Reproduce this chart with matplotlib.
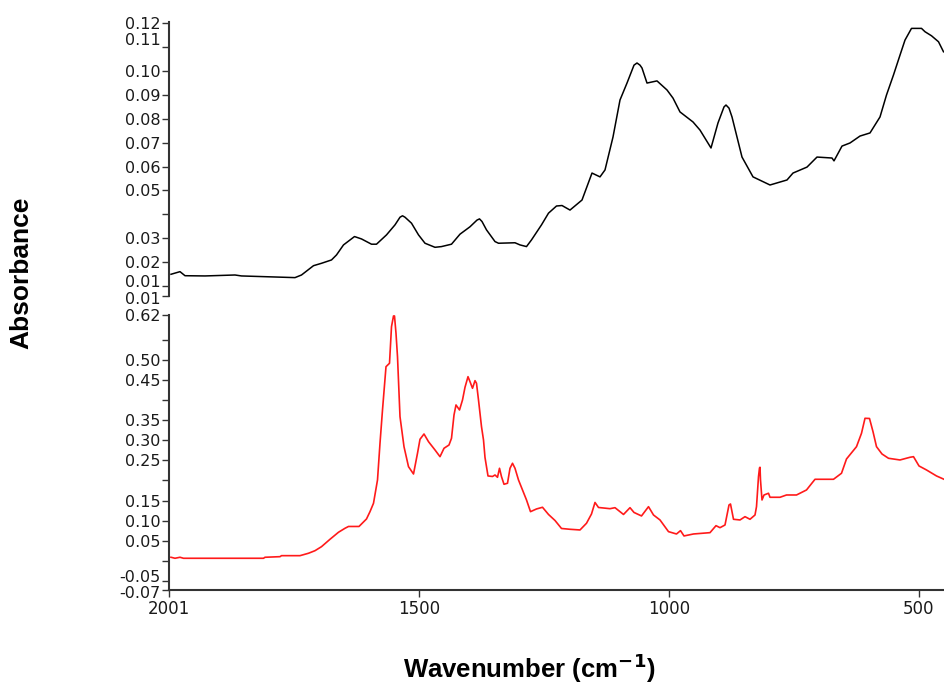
import matplotlib
matplotlib.use('Agg')
import matplotlib.pyplot as plt
from matplotlib.transforms import ScaledTranslation

# Espectro superior (preto) - numero de onda (cm-1) e absorbancia
wn_top = [1996, 1978, 1968, 1928, 1868, 1855, 1748, 1735, 1711, 1695, 1675, 1665,
          1651, 1629, 1615, 1595, 1585, 1565, 1548, 1538, 1533, 1528, 1515, 1501, 1488,
          1468, 1455, 1435, 1418, 1398, 1384, 1379, 1374, 1365, 1348, 1341, 1308, 1298, 1285,
          1275, 1255, 1241, 1225, 1214, 1198, 1174, 1154, 1138, 1128, 1112, 1098,
          1084, 1070, 1064, 1058, 1054, 1044, 1024, 1004, 992, 978, 952, 938, 916, 902, 890, 886,
          880, 874, 854, 832, 798, 764, 752, 724, 704, 674, 670, 654, 638, 618, 598,
          578, 565, 551, 538, 528, 515, 495, 488, 475, 461, 451]
abs_top = [0.0149, 0.0160, 0.0143, 0.0142, 0.0146, 0.0142, 0.0135, 0.0146, 0.0185,
           0.0195, 0.0209, 0.0230, 0.0272, 0.0307, 0.0297, 0.0275, 0.0275, 0.0314,
           0.0356, 0.0388, 0.0394, 0.0388, 0.0363, 0.0314, 0.0279, 0.0262, 0.0265, 0.0275,
           0.0317, 0.0348, 0.0376, 0.0381, 0.0370, 0.0335, 0.0286, 0.0279, 0.0281, 0.0272, 0.0265,
           0.0293, 0.0356, 0.0405, 0.0435, 0.0437, 0.0418, 0.0460, 0.0573, 0.0557,
           0.0586, 0.0724, 0.0879, 0.0950, 0.1025, 0.1034, 0.1025, 0.1013, 0.0950, 0.0959, 0.0921,
           0.0887, 0.0829, 0.0787, 0.0753, 0.0678, 0.0783, 0.0850, 0.0858, 0.0845, 0.0808, 0.0640,
           0.0557, 0.0523, 0.0544, 0.0573, 0.0598, 0.0640, 0.0636, 0.0624, 0.0686,
           0.0699, 0.0728, 0.0741, 0.0808, 0.0900, 0.0984, 0.1067, 0.1130, 0.1179,
           0.1179, 0.1165, 0.1148, 0.1123, 0.1081]

# Espectro inferior (vermelho)
wn_bot = [1996, 1988, 1978, 1971, 1811, 1808, 1778, 1775, 1738, 1721, 1708, 1695,
          1678, 1661, 1648, 1641, 1620, 1605, 1598, 1591, 1583, 1578, 1573, 1566,
          1559, 1555, 1551, 1549, 1546, 1543, 1538, 1530, 1521, 1511, 1503, 1498,
          1490, 1481, 1468, 1458, 1450, 1440, 1435, 1430, 1426, 1419, 1413, 1408,
          1402, 1398, 1393, 1388, 1385, 1381, 1375, 1371, 1368, 1362, 1353, 1348,
          1343, 1339, 1335, 1330, 1323, 1318, 1313, 1308, 1301, 1293, 1285, 1277,
          1265, 1253, 1241, 1228, 1215, 1198, 1178, 1165, 1155, 1148, 1141, 1118,
          1108, 1091, 1078, 1070, 1055, 1041, 1031, 1018, 1001, 985, 977, 970, 951,
          918, 906, 898, 888, 880, 877, 871, 858, 848, 838, 828, 825, 821, 819,
          818, 817, 814, 810, 801, 798, 778, 765, 745, 725, 708, 671, 655, 645,
          625, 615, 608, 599, 592, 585, 574, 561, 538, 518, 511, 500, 485, 465, 450]
abs_bot = [0.0087, 0.0062, 0.0087, 0.0062, 0.0062, 0.0087, 0.0102, 0.0127, 0.0127,
           0.0187, 0.0251, 0.0351, 0.0535, 0.0710, 0.0809, 0.0854, 0.0854, 0.1041,
           0.1223, 0.1432, 0.2012, 0.2926, 0.3755, 0.4833, 0.4918, 0.5829, 0.6096,
           0.6096, 0.5665, 0.5082, 0.3588, 0.2841, 0.2343, 0.2161, 0.2677, 0.3025,
           0.3157, 0.2966, 0.2759, 0.2592, 0.2801, 0.2883, 0.3050, 0.3630, 0.3880,
           0.3755, 0.4004, 0.4320, 0.4584, 0.4460, 0.4295, 0.4485, 0.4420, 0.4004,
           0.3339, 0.3008, 0.2572, 0.2112, 0.2099, 0.2136, 0.2079, 0.2303, 0.2094,
           0.1905, 0.1930, 0.2303, 0.2428, 0.2303, 0.2012, 0.1763, 0.1514, 0.1223,
           0.1290, 0.1332, 0.1153, 0.1003, 0.0804, 0.0784, 0.0767, 0.0934, 0.1165,
           0.1452, 0.1327, 0.1297, 0.1322, 0.1153, 0.1322, 0.1203, 0.1116, 0.1347,
           0.1140, 0.1016, 0.0725, 0.0667, 0.0750, 0.0618, 0.0667, 0.0700, 0.0874,
           0.0824, 0.0891, 0.1389, 0.1414, 0.1033, 0.1016, 0.1098, 0.1033, 0.1140,
           0.1347, 0.2094, 0.2311, 0.2328, 0.2012, 0.1514, 0.1638, 0.1681, 0.1581,
           0.1581, 0.1638, 0.1638, 0.1763, 0.2029, 0.2029, 0.2179, 0.2535, 0.2841,
           0.3175, 0.3548, 0.3543, 0.3215, 0.2841, 0.2659, 0.2552, 0.2510, 0.2577,
           0.2592, 0.2361, 0.2261, 0.2112, 0.2029]

# Marcas dos eixos
top_ticks = [0.12, 0.11, 0.10, 0.09, 0.08, 0.07, 0.06, 0.05, 0.04, 0.03, 0.02, 0.01, 0.0058]
top_labels = ['0.12', '0.11', '0.10', '0.09', '0.08', '0.07', '0.06', '0.05', '', '0.03', '0.02', '0.01', '0.01']
bot_ticks = [0.612, 0.55, 0.50, 0.45, 0.40, 0.35, 0.30, 0.25, 0.20, 0.15, 0.10, 0.05, 0.0, -0.05, -0.0728]
bot_labels = ['0.62', '', '0.50', '0.45', '', '0.35', '0.30', '0.25', '', '0.15', '0.10', '0.05', '', '-0.05', '-0.07']
x_ticks = [2001, 1500, 1000, 500]

fig = plt.figure(figsize=(9.44, 6.88), dpi=100)
ax1 = fig.add_axes([168.5 / 944, 1 - 296 / 688, 1 - 168.5 / 944, (296 - 21.7) / 688])
ax2 = fig.add_axes([168.5 / 944, 1 - 590 / 688, 1 - 168.5 / 944, (590 - 315) / 688])

ax1.plot(wn_top, abs_top, color='black', linewidth=1.1)
ax2.plot(wn_bot, abs_bot, color='#ff1a1a', linewidth=1.2)

spine_color = '#333333'
for ax in (ax1, ax2):
    ax.set_xlim(2001, 450)
    ax.spines['top'].set_visible(False)
    ax.spines['right'].set_visible(False)
    ax.spines['left'].set_color(spine_color)
    ax.spines['left'].set_linewidth(1.5)
    ax.tick_params(axis='y', direction='out', length=5, width=1, color=spine_color,
                   labelsize=11.5, labelcolor='#1a1a1a', pad=0.5)

ax1.set_ylim(0.0058, 0.1207)
ax1.set_yticks(top_ticks)
ax1.set_yticklabels(top_labels)
ax1.spines['bottom'].set_visible(False)
ax1.set_xticks([])

ax2.set_ylim(-0.0728, 0.612)
ax2.set_yticks(bot_ticks)
ax2.set_yticklabels(bot_labels)
ax2.spines['bottom'].set_color(spine_color)
ax2.spines['bottom'].set_linewidth(1.5)
ax2.set_xticks(x_ticks)
ax2.set_xticklabels([str(t) for t in x_ticks])
ax2.tick_params(axis='x', direction='out', length=5, width=1, color=spine_color,
                labelsize=12, labelcolor='#1a1a1a', pad=2)

# deslocar alguns rotulos para nao se sobreporem (como no original)
def nudge(label, dy_px):
    label.set_transform(label.get_transform() + ScaledTranslation(0, dy_px / 100, fig.dpi_scale_trans))

lab1 = ax1.get_yticklabels()
nudge(lab1[1], 8)
nudge(lab1[11], 5)
nudge(lab1[12], -2)
lab2 = ax2.get_yticklabels()
nudge(lab2[13], 5)
nudge(lab2[14], -2)

fig.text(0.023, 0.603, 'Absorbance', rotation=90, ha='center', va='center',
         fontsize=19, fontweight='bold', family='Liberation Sans')
fig.text(0.561, 0.004, 'Wavenumber (cm$^{\\mathbf{-1}}$)', ha='center', va='bottom',
         fontsize=18.5, fontweight='bold', family='Liberation Sans')

fig.savefig('out.png', dpi=100)
